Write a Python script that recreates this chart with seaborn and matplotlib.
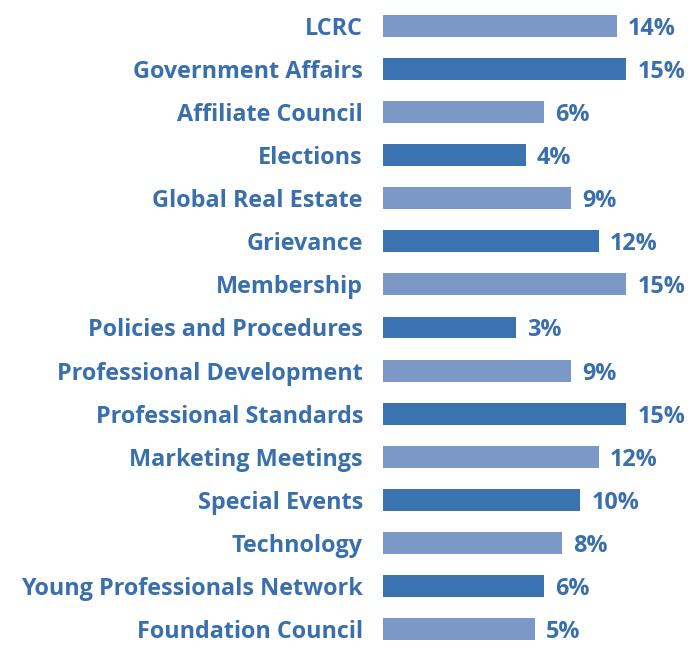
import numpy as np
import pandas as pd
import seaborn as sns
import matplotlib.pyplot as plt

committees = [
    'LCRC', 'Government Affairs', 'Affiliate Council', 'Elections',
    'Global Real Estate', 'Grievance', 'Membership', 'Policies and Procedures',
    'Professional Development', 'Professional Standards', 'Marketing Meetings',
    'Special Events', 'Technology', 'Young Professionals Network',
    'Foundation Council',
]
pct = [14, 15, 6, 4, 9, 12, 15, 3, 9, 15, 12, 10, 8, 6, 5]

# bars in the original don't start at zero, they carry a constant base
BASE = 11.56

dark = '#3b73b1'
light = '#7b98c6'
text_col = '#3a6fae'

df = pd.DataFrame({'committee': committees, 'pct': pct})
df['bar_len'] = df['pct'] + BASE
df['shade'] = ['light' if i % 2 == 0 else 'dark' for i in range(len(df))]

sns.set_theme(style='white')
plt.rcParams['font.family'] = ['Open Sans', 'DejaVu Sans']

fig = plt.figure(figsize=(7, 6.62), dpi=100)
ax = fig.add_axes([0, 0, 1, 1])

sns.barplot(data=df, x='bar_len', y='committee', hue='shade',
            palette={'light': light, 'dark': dark}, dodge=False,
            saturation=1, legend=False, width=0.51, linewidth=0, ax=ax)

px = 9.16  # pixels per unit
ax.set_xlim(-383 / px, (700 - 383) / px)
ax.set_ylim(14 + (662 - 629) / 43.07, -26 / 43.07)

for i, row in df.iterrows():
    ax.text(-20 / px, i, row['committee'], ha='right', va='center_baseline',
            fontsize=16.8, fontweight='bold', color=text_col)
    ax.text(row['bar_len'] + 11 / px, i, f"{row['pct']}%", ha='left',
            va='center_baseline', fontsize=16.8, fontweight='bold', color=text_col)

ax.set_axis_off()
fig.savefig('out.png', dpi=100)
